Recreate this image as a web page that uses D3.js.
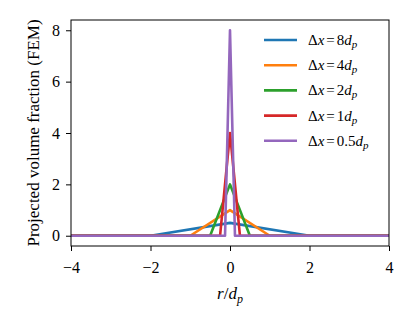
<!DOCTYPE html>
<html>
<head>
<meta charset="utf-8">
<script src="https://cdn.jsdelivr.net/npm/d3@7"></script>
<style>
  body { margin: 0; background: #fff; }
</style>
</head>
<body>
<svg id="chart" width="415" height="332"></svg>
<script>
const W = 415, H = 332;
const margin = {left: 71, right: 26, top: 20, bottom: 86};
const SERIF = '"Liberation Serif", "Times New Roman", Times, "DejaVu Serif", serif';

// legend labels
const labels = ["8", "4", "2", "1", "0.5"];
const colors = ["#1f77b4", "#ff7f0e", "#2ca02c", "#d62728", "#9467bd"];

// hat functions
const xs8 = [-4, -2, 0, 2, 4];
const ys8 = [0, 0, 0.5, 0, 0];
const xs4 = [-4, -1, 0, 1, 4];
const ys4 = [0, 0, 1, 0, 0];
const xs2 = [-4, -0.5, 0, 0.5, 4];
const ys2 = [0, 0, 2, 0, 0];
const xs1 = [-4, -0.25, 0, 0.25, 4];
const ys1 = [0, 0, 4, 0, 0];
const xs05 = [-4, -0.125, 0, 0.125, 4];
const ys05 = [0, 0, 8, 0, 0];

const xTicks = [-4, -2, 0, 2, 4];
const yTicks = [0, 2, 4, 6, 8];

const series = [[xs8, ys8], [xs4, ys4], [xs2, ys2], [xs1, ys1], [xs05, ys05]];

const svg = d3.select('#chart');

const x = d3.scaleLinear().domain([-4, 4]).range([margin.left, W - margin.right]);
const y = d3.scaleLinear().domain([-0.4, 8.4]).range([H - margin.bottom, margin.top]);

const fmt = d => d < 0 ? '\u2212' + Math.abs(d) : String(d);

// lines
const line = d3.line().x(d => x(d[0])).y(d => y(d[1]));
svg.append('g')
  .selectAll('path')
  .data(series)
  .enter()
  .append('path')
  .attr('d', s => line(s[0].map((v, i) => [v, s[1][i]])))
  .attr('fill', 'none')
  .attr('stroke', (d, i) => colors[i])
  .attr('stroke-width', 2.6)
  .attr('stroke-linejoin', 'round');

// axes
const xAxis = svg.append('g')
  .attr('transform', `translate(0,${H - margin.bottom})`)
  .call(d3.axisBottom(x).tickValues(xTicks).tickFormat(fmt).tickSize(5).tickPadding(11));
const yAxis = svg.append('g')
  .attr('transform', `translate(${margin.left},0)`)
  .call(d3.axisLeft(y).tickValues(yTicks).tickFormat(fmt).tickSize(5).tickPadding(6));

[xAxis, yAxis].forEach(a => {
  a.attr('font-family', null);
  a.select('.domain').remove();
  a.selectAll('line').attr('stroke', '#000').attr('stroke-width', 1);
  a.selectAll('text').style('font-size', '16px').style('font-family', SERIF);
});

// frame
svg.append('rect')
  .attr('x', margin.left)
  .attr('y', margin.top)
  .attr('width', W - margin.left - margin.right)
  .attr('height', H - margin.top - margin.bottom)
  .attr('fill', 'none')
  .attr('stroke', '#000')
  .attr('stroke-width', 1);

// axis labels
const xl = svg.append('text')
  .attr('x', (margin.left + W - margin.right) / 2)
  .attr('y', 299)
  .attr('text-anchor', 'middle')
  .style('font-family', SERIF)
  .style('font-size', '17px');
xl.append('tspan').attr('font-style', 'italic').text('r');
xl.append('tspan').text('/');
xl.append('tspan').attr('font-style', 'italic').text('d');
xl.append('tspan').attr('font-style', 'italic').style('font-size', '12px').attr('dy', 4).text('p');

svg.append('text')
  .attr('transform', `translate(39,${(margin.top + H - margin.bottom) / 2}) rotate(-90)`)
  .attr('text-anchor', 'middle')
  .style('font-family', SERIF)
  .style('font-size', '17px')
  .text('Projected volume fraction (FEM)');

// legend
const leg = svg.append('g')
  .selectAll('g')
  .data(labels)
  .enter()
  .append('g')
  .attr('transform', (d, i) => `translate(264,${40 + i * 25.2})`);

leg.append('line')
  .attr('x1', 0).attr('x2', 33)
  .attr('stroke', (d, i) => colors[i])
  .attr('stroke-width', 2.6);

const lt = leg.append('text')
  .attr('x', 44)
  .attr('y', 5)
  .style('font-family', SERIF)
  .style('font-size', '15px');
lt.append('tspan').text('\u0394');
lt.append('tspan').attr('font-style', 'italic').text('x');
lt.append('tspan').attr('dx', 2).text('=');
lt.append('tspan').attr('dx', 2).text(d => d);
lt.append('tspan').attr('font-style', 'italic').text('d');
lt.append('tspan').attr('font-style', 'italic').style('font-size', '11px').attr('dy', 3).text('p');
</script>
</body>
</html>
